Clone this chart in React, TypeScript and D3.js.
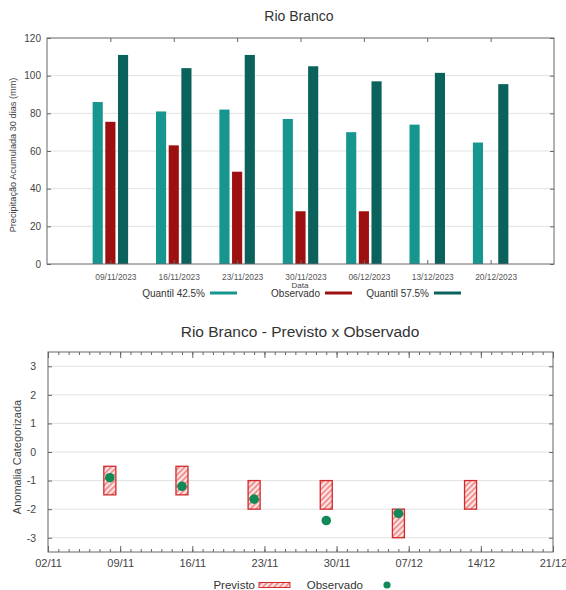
// App.tsx
import React, { useEffect, useRef } from 'react';
import * as d3 from 'd3';

// Gráfico de barras - precipitação acumulada 30 dias
const semanas = ['09/11/2023', '16/11/2023', '23/11/2023', '30/11/2023', '06/12/2023', '13/12/2023', '20/12/2023'];
const quantil425 = [86, 81, 82, 77, 70, 74, 64.5];
const observado = [75.5, 63, 49, 28, 28, 0, 0];
const quantil575 = [111, 104, 111, 105, 97, 101.5, 95.5];
const precipTicks = [0, 20, 40, 60, 80, 100, 120];

// Previsto x Observado - anomalia categorizada
const datasPrevisao = ['2023-11-08', '2023-11-15', '2023-11-22', '2023-11-29', '2023-12-06', '2023-12-13'];
const previstoMin = [-1.5, -1.5, -2, -2, -3, -2];
const previstoMax = [-0.5, -0.5, -1, -1, -2, -1];
const observadoAnomalia: (number | null)[] = [-0.9, -1.2, -1.65, -2.4, -2.15, null];
const anomaliaTicks = [-3, -2, -1, 0, 1, 2, 3];
const inicioEixo = '2023-11-02';
const fimEixo = '2023-12-21';

const FONT = '"Liberation Sans", Arial, sans-serif';
const W = 566;
const H = 590;

const App: React.FC = () => {
    const svgRef = useRef<SVGSVGElement | null>(null);

    useEffect(() => {
        const svg = d3.select(svgRef.current);
        svg.selectAll('*').remove();
        svg.attr('font-family', FONT);

        // hatch pattern for the forecast boxes
        const defs = svg.append('defs');
        const pat = defs.append('pattern')
            .attr('id', 'hatch')
            .attr('patternUnits', 'userSpaceOnUse')
            .attr('width', 4)
            .attr('height', 4)
            .attr('patternTransform', 'rotate(45)');
        pat.append('rect').attr('width', 4).attr('height', 4).attr('fill', '#fde6e6');
        pat.append('rect').attr('width', 1.7).attr('height', 4).attr('fill', '#ef8585');

        drawBarChart(svg);
        drawForecastChart(svg);
    }, []);

    const drawBarChart = (svg: d3.Selection<SVGSVGElement | null, unknown, null, undefined>) => {
        const box = { left: 47, right: 554, top: 38, bottom: 264 };
        const g = svg.append('g');

        const x = d3.scaleLinear().domain([-1, semanas.length]).range([box.left, box.right]);
        const y = d3.scaleLinear().domain([0, 120]).range([box.bottom, box.top]);

        g.append('text')
            .attr('x', 299).attr('y', 21)
            .attr('text-anchor', 'middle')
            .attr('font-size', 14)
            .attr('fill', '#333')
            .text('Rio Branco');

        // grid
        g.selectAll('.grid')
            .data(precipTicks.slice(1, -1))
            .enter().append('line')
            .attr('x1', box.left).attr('x2', box.right)
            .attr('y1', d => y(d)).attr('y2', d => y(d))
            .attr('stroke', '#e2e2e2');

        const series = [
            { values: quantil425, color: '#17968f', offset: -0.2 },
            { values: observado, color: '#9e1010', offset: 0 },
            { values: quantil575, color: '#0b625d', offset: 0.2 },
        ];
        const bw = 0.16;
        series.forEach(s => {
            g.append('g').selectAll('rect')
                .data(s.values)
                .enter().append('rect')
                .attr('x', (_, i) => x(i + s.offset - bw / 2))
                .attr('width', x(bw) - x(0))
                .attr('y', d => y(d))
                .attr('height', d => y(0) - y(d))
                .attr('fill', s.color);
        });

        // frame
        g.append('rect')
            .attr('x', box.left).attr('y', box.top)
            .attr('width', box.right - box.left).attr('height', box.bottom - box.top)
            .attr('fill', 'none').attr('stroke', '#666');

        const left = g.append('g')
            .attr('transform', `translate(${box.left},0)`)
            .call(d3.axisLeft(y).tickValues(precipTicks).tickSizeInner(-4).tickSizeOuter(0).tickPadding(6)
                .tickFormat(d => `${d}`));
        g.append('g')
            .attr('transform', `translate(${box.right},0)`)
            .call(d3.axisRight(y).tickValues(precipTicks).tickSizeInner(-4).tickSizeOuter(0).tickFormat(() => ''));
        const bottom = g.append('g')
            .attr('transform', `translate(0,${box.bottom})`)
            .call(d3.axisBottom(x).tickValues(d3.range(semanas.length)).tickSizeInner(-4).tickSizeOuter(0)
                .tickPadding(10).tickFormat(i => semanas[i as number]));
        g.append('g')
            .attr('transform', `translate(0,${box.top})`)
            .call(d3.axisTop(x).tickValues(d3.range(semanas.length)).tickSizeInner(-4).tickSizeOuter(0).tickFormat(() => ''));

        g.selectAll('.domain').remove();
        g.selectAll('.tick line').attr('stroke', '#666');
        left.selectAll('text').attr('font-size', 10).attr('fill', '#444').attr('font-family', FONT);
        bottom.selectAll('text').attr('font-size', 8.4).attr('fill', '#555').attr('dx', 5).attr('font-family', FONT);

        g.append('text')
            .attr('transform', 'translate(13,155) rotate(-90)')
            .attr('text-anchor', 'middle')
            .attr('dominant-baseline', 'central')
            .attr('font-size', 9.2)
            .attr('fill', '#444')
            .text('Precipitação Acumulada 30 dias (mm)');

        g.append('text')
            .attr('x', 300).attr('y', 287.5)
            .attr('text-anchor', 'middle')
            .attr('font-size', 8)
            .attr('fill', '#444')
            .text('Data');

        // legend
        const legend = [
            { label: 'Quantil 42.5%', color: series[0].color, end: 205 },
            { label: 'Observado', color: series[1].color, end: 320 },
            { label: 'Quantil 57.5%', color: series[2].color, end: 429 },
        ];
        legend.forEach(l => {
            g.append('text')
                .attr('x', l.end).attr('y', 296.5)
                .attr('text-anchor', 'end')
                .attr('font-size', 10)
                .attr('fill', '#333')
                .text(l.label);
            g.append('line')
                .attr('x1', l.end + 5).attr('x2', l.end + 32)
                .attr('y1', 293).attr('y2', 293)
                .attr('stroke', l.color)
                .attr('stroke-width', 3);
        });
    };

    const drawForecastChart = (svg: d3.Selection<SVGSVGElement | null, unknown, null, undefined>) => {
        const box = { left: 48, right: 553, top: 352, bottom: 552 };
        const g = svg.append('g');
        const parse = d3.timeParse('%Y-%m-%d');
        const start = parse(inicioEixo) as Date;
        const end = parse(fimEixo) as Date;

        const x = d3.scaleTime().domain([start, end]).range([box.left, box.right]);
        const y = d3.scaleLinear().domain([-3.5, 3.5]).range([box.bottom, box.top]);

        g.append('text')
            .attr('x', 300).attr('y', 337)
            .attr('text-anchor', 'middle')
            .attr('font-size', 15.5)
            .attr('fill', '#333')
            .text('Rio Branco - Previsto x Observado');

        g.selectAll('.grid')
            .data(anomaliaTicks)
            .enter().append('line')
            .attr('x1', box.left).attr('x2', box.right)
            .attr('y1', d => y(d)).attr('y2', d => y(d))
            .attr('stroke', '#e2e2e2');

        const dates = datasPrevisao.map(d => parse(d) as Date);
        g.append('g').selectAll('rect')
            .data(dates)
            .enter().append('rect')
            .attr('x', d => x(d3.timeHour.offset(d, -14)))
            .attr('width', d => x(d3.timeHour.offset(d, 14)) - x(d3.timeHour.offset(d, -14)))
            .attr('y', (_, i) => y(previstoMax[i]))
            .attr('height', (_, i) => y(previstoMin[i]) - y(previstoMax[i]))
            .attr('fill', 'url(#hatch)')
            .attr('stroke', '#d02a2a')
            .attr('stroke-width', 1.3);

        g.append('g').selectAll('circle')
            .data(dates.filter((_, i) => observadoAnomalia[i] !== null))
            .enter().append('circle')
            .attr('cx', d => x(d))
            .attr('cy', d => y(observadoAnomalia[dates.indexOf(d)] as number))
            .attr('r', 4.8)
            .attr('fill', '#118a57');

        g.append('rect')
            .attr('x', box.left).attr('y', box.top)
            .attr('width', box.right - box.left).attr('height', box.bottom - box.top)
            .attr('fill', 'none').attr('stroke', '#666');

        const weeks = d3.timeThursday.range(start, d3.timeDay.offset(end, 1));
        const days = d3.timeDay.range(start, end);
        const fmt = d3.timeFormat('%d/%m');

        const left = g.append('g')
            .attr('transform', `translate(${box.left},0)`)
            .call(d3.axisLeft(y).tickValues(anomaliaTicks).tickSizeInner(-4).tickSizeOuter(0).tickPadding(12)
                .tickFormat(d => `${d}`));
        g.append('g')
            .attr('transform', `translate(${box.right},0)`)
            .call(d3.axisRight(y).tickValues(anomaliaTicks).tickSizeInner(-4).tickSizeOuter(0).tickFormat(() => ''));
        const bottom = g.append('g')
            .attr('transform', `translate(0,${box.bottom})`)
            .call(d3.axisBottom(x).tickValues(weeks).tickSizeInner(-6).tickSizeOuter(0).tickPadding(7)
                .tickFormat(d => fmt(d as Date)));
        g.append('g')
            .attr('transform', `translate(0,${box.bottom})`)
            .call(d3.axisBottom(x).tickValues(days).tickSizeInner(-3).tickSizeOuter(0).tickFormat(() => ''));
        g.append('g')
            .attr('transform', `translate(0,${box.top})`)
            .call(d3.axisTop(x).tickValues(weeks).tickSizeInner(-6).tickSizeOuter(0).tickFormat(() => ''));
        g.append('g')
            .attr('transform', `translate(0,${box.top})`)
            .call(d3.axisTop(x).tickValues(days).tickSizeInner(-3).tickSizeOuter(0).tickFormat(() => ''));

        g.selectAll('.domain').remove();
        g.selectAll('.tick line').attr('stroke', '#666');
        left.selectAll('text').attr('font-size', 10.5).attr('fill', '#444').attr('font-family', FONT);
        bottom.selectAll('text').attr('font-size', 11).attr('fill', '#444').attr('font-family', FONT);

        g.append('text')
            .attr('transform', 'translate(17,457) rotate(-90)')
            .attr('text-anchor', 'middle')
            .attr('dominant-baseline', 'central')
            .attr('font-size', 11)
            .attr('fill', '#444')
            .text('Anomalia Categorizada');

        // legend
        g.append('text')
            .attr('x', 255).attr('y', 589)
            .attr('text-anchor', 'end')
            .attr('font-size', 11.5)
            .attr('fill', '#333')
            .text('Previsto');
        g.append('rect')
            .attr('x', 259).attr('y', 582.5)
            .attr('width', 31).attr('height', 5)
            .attr('fill', 'url(#hatch)')
            .attr('stroke', '#d02a2a')
            .attr('stroke-width', 1);
        g.append('text')
            .attr('x', 363).attr('y', 589)
            .attr('text-anchor', 'end')
            .attr('font-size', 11.5)
            .attr('fill', '#333')
            .text('Observado');
        g.append('circle')
            .attr('cx', 387).attr('cy', 585)
            .attr('r', 3.6)
            .attr('fill', '#118a57');
    };

    return (
        <svg ref={svgRef} width={W} height={H}
            style={{ position: 'absolute', left: 0, top: 0, background: '#fff' }}></svg>
    );
};

export default App;
